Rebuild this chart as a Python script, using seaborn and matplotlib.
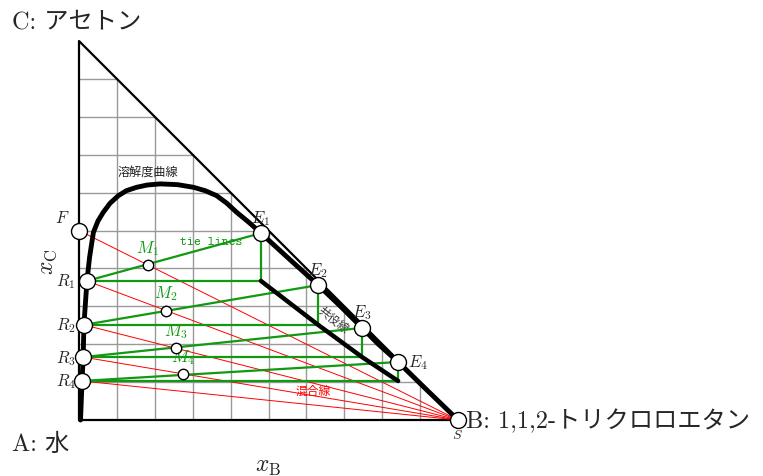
import numpy as np
import pandas as pd
import matplotlib
matplotlib.use("Agg")
import matplotlib.pyplot as plt
import seaborn as sns

# 三角図のデータ (x_B, x_C)
grid_ticks = [0.1, 0.2, 0.3, 0.4, 0.5, 0.6, 0.7, 0.8, 0.9]

# 溶解度曲線
curve_xB = [0.004, 0.006, 0.008, 0.011, 0.013, 0.021, 0.028, 0.038, 0.050, 0.064, 0.082, 0.104,
            0.125, 0.152, 0.180, 0.214, 0.260, 0.302, 0.333, 0.363, 0.390, 0.416, 0.450, 0.480,
            0.560, 0.631, 0.690, 0.747, 0.790, 0.842, 0.920, 1.000]
curve_xC = [0.000, 0.050, 0.103, 0.166, 0.251, 0.367, 0.430, 0.495, 0.525, 0.548, 0.572, 0.592,
            0.605, 0.614, 0.620, 0.623, 0.621, 0.614, 0.605, 0.592, 0.572, 0.548, 0.520, 0.493,
            0.420, 0.356, 0.300, 0.243, 0.200, 0.153, 0.077, 0.000]

F = (0.0, 0.5)
S = (1.0, 0.0)
R_xB = [0.021, 0.013, 0.011, 0.008]
R_xC = [0.367, 0.251, 0.166, 0.103]
E_xB = [0.480, 0.631, 0.747, 0.842]
E_xC = [0.493, 0.356, 0.243, 0.153]
M_xB = [0.182, 0.230, 0.256, 0.274]
M_xC = [0.409, 0.288, 0.190, 0.121]

sns.set_theme(style="white")
plt.rcParams["mathtext.fontset"] = "cm"
jp = ["cmr10", "Noto Sans CJK JP"]

fig = plt.figure(figsize=(7.63, 4.77), dpi=100)
ax = fig.add_axes([0, 0, 1, 1])
ax.set_xlim(-79 / 379, 684 / 379)
ax.set_ylim(-56 / 379, 421 / 379)
ax.set_aspect("equal")
ax.axis("off")

# グリッド
for t in grid_ticks:
    ax.plot([t, t], [0, 1 - t], color="#999999", lw=1.0, zorder=1)
    ax.plot([0, 1 - t], [t, t], color="#999999", lw=1.0, zorder=1)

# 三角形
ax.plot([0, 1, 0, 0], [0, 0, 1, 0], color="black", lw=1.6, zorder=2)

# 混合線
feeds = [F] + list(zip(R_xB, R_xC))
for p in feeds:
    ax.plot([p[0], S[0]], [p[1], S[1]], color="red", lw=0.7, zorder=3)

# tie lines と共役線の作図
green = "#119911"
conj_x, conj_y = [], []
for rb, rc, eb, ec in zip(R_xB, R_xC, E_xB, E_xC):
    ax.plot([rb, eb], [rc, ec], color=green, lw=1.6, zorder=4)
    ax.plot([rb, eb, eb], [rc, rc, ec], color=green, lw=1.6, zorder=4)
    conj_x.append(eb)
    conj_y.append(rc)
ax.plot(conj_x, conj_y, color="black", lw=3.2, zorder=5, solid_capstyle="round")

# 溶解度曲線
curve = pd.DataFrame({"xB": curve_xB, "xC": curve_xC})
sns.lineplot(data=curve, x="xB", y="xC", sort=False, estimator=None, color="black",
             lw=3.5, ax=ax, zorder=6)

# 点
big = pd.DataFrame({"xB": [F[0], S[0]] + R_xB + E_xB, "xC": [F[1], S[1]] + R_xC + E_xC})
ax.plot(big["xB"], big["xC"], "o", ms=11.5, mfc="white", mec="black", mew=1.0, zorder=8)
ax.plot(M_xB, M_xC, "o", ms=7.5, mfc="white", mec="black", mew=1.0, zorder=8)

# ラベル
ax.text(-0.045, 0.535, "$F$", fontsize=12, ha="center", va="center")
for i, (rb, rc) in enumerate(zip(R_xB, R_xC)):
    ax.text(-0.008, rc, f"$R_{i + 1}$", fontsize=12, ha="right", va="center")
for i, (eb, ec) in enumerate(zip(E_xB, E_xC)):
    if i < 3:
        ax.text(eb, ec + 0.042, f"$E_{i + 1}$", fontsize=12, ha="center", va="center")
    else:
        ax.text(eb + 0.027, ec, f"$E_{i + 1}$", fontsize=12, ha="left", va="center")
for i, (mb, mc) in enumerate(zip(M_xB, M_xC)):
    ax.text(mb, mc + 0.047, f"$M_{i + 1}$", fontsize=12, ha="center", va="center", color=green)
ax.text(1.0, -0.038, "$S$", fontsize=10, ha="center", va="center")

ax.text(0.35, 0.47, "tie lines", fontsize=9.5, family="cmtt10", color=green,
        ha="center", va="center")
ax.text(0.182, 0.656, "溶解度曲線", fontsize=8.7, family=jp, color="#222222",
        ha="center", va="center")
ax.text(0.670, 0.267, "共役線", fontsize=8.5, family=jp, color="#333333", rotation=-38,
        ha="center", va="center")
ax.text(0.617, 0.079, "混合線", fontsize=8.5, family=jp, color="red", ha="center", va="center")

ax.text(-0.178, 1.052, "C: アセトン", fontsize=17.5, family=jp, ha="left", va="center")
ax.text(-0.178, -0.062, "A: 水", fontsize=17.5, family=jp, ha="left", va="center")
ax.text(1.022, 0.0, "B: 1,1,2-トリクロロエタン", fontsize=17.5, family=jp,
        ha="left", va="center")
ax.text(-0.085, 0.42, "$x_\\mathrm{C}$", fontsize=17, rotation=90, ha="center", va="center")
ax.text(0.499, -0.118, "$x_\\mathrm{B}$", fontsize=17, ha="center", va="center")

fig.savefig("out.png", dpi=100)
